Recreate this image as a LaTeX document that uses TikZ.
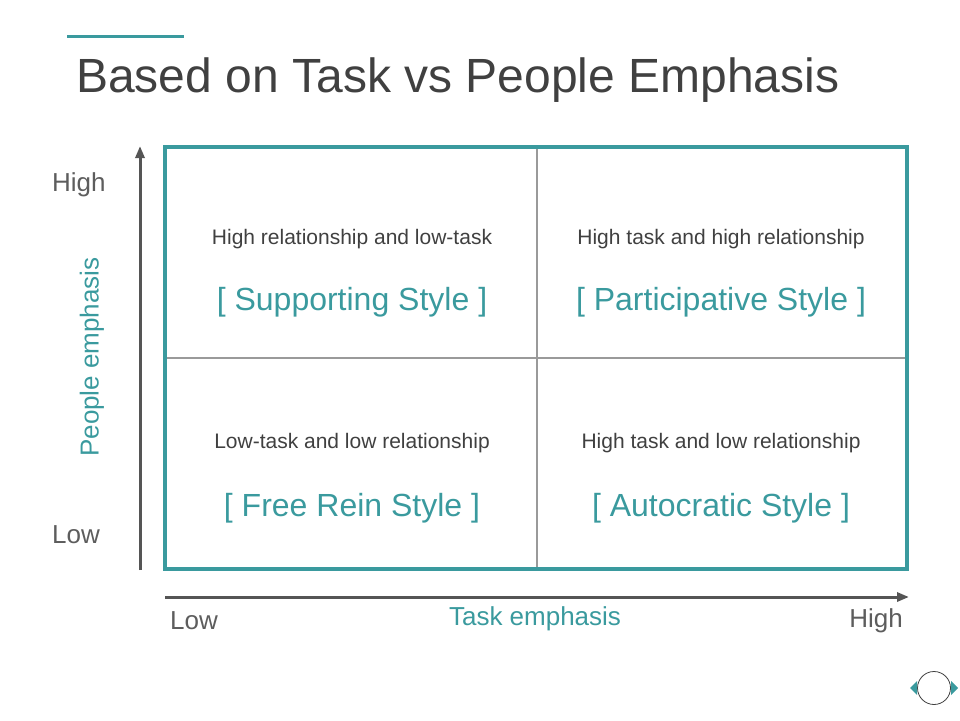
\documentclass[tikz,border=0pt]{standalone}
\usepackage{fontspec}
\setmainfont{Liberation Sans}
\usetikzlibrary{arrows.meta}
\definecolor{teal1}{HTML}{3A9A9E}
\definecolor{dark}{HTML}{404040}
\definecolor{axisgray}{HTML}{555555}
\definecolor{divgray}{HTML}{9A9A9A}
\begin{document}
\begin{tikzpicture}[x=1pt,y=-1pt,
  axislbl/.style={text=dark!85,font=\fontsize{26}{30}\selectfont,inner sep=0pt},
  axistitle/.style={text=teal1,font=\fontsize{26}{30}\selectfont,inner sep=0pt},
  qdesc/.style={text=dark,font=\fontsize{21}{24}\selectfont,inner sep=0pt},
  qstyle/.style={text=teal1,font=\fontsize{32}{36}\selectfont,inner sep=0pt},
  axisline/.style={draw=axisgray,line width=3pt,-{Triangle[length=12pt,width=9pt]}},
  divider/.style={draw=divgray,line width=2.5pt}]
\useasboundingbox (0,0) rectangle (960,720);
% title
\coordinate (tl1) at (67,36); \coordinate (tl2) at (184,36);
\draw[teal1,line width=3pt] (tl1) -- (tl2);
\node[anchor=base west,inner sep=0pt,text=dark,font=\fontsize{48}{54}\selectfont] (title) at (76,92) {Based on Task vs People Emphasis};
% grid
\coordinate (gTL) at (165,147); \coordinate (gBR) at (907,569);
\coordinate (vT) at (537,147); \coordinate (vB) at (537,569);
\coordinate (hL) at (165,358); \coordinate (hR) at (907,358);
\draw[divider] (vT) -- (vB);
\draw[divider] (hL) -- (hR);
\draw[teal1,line width=3.5pt] (gTL) rectangle (gBR);
% axes
\coordinate (yA) at (140,570); \coordinate (yB) at (140,146);
\coordinate (xA) at (165,597); \coordinate (xB) at (909,597);
\draw[axisline] (yA) -- (yB);
\draw[axisline] (xA) -- (xB);
% axis labels
\node[axislbl,anchor=west] (yhigh) at (52,185) {High};
\node[axislbl,anchor=west] (ylow) at (52,535) {Low};
\node[axistitle,rotate=90] (ytitle) at (92,357) {People emphasis};
\node[axislbl,anchor=west] (xlow) at (170,621) {Low};
\node[axistitle] (xtitle) at (535,619) {Task emphasis};
\node[axislbl,anchor=east] (xhigh) at (903,621) {High};
% quadrants
\node[qdesc] (q1d) at (352,239) {High relationship and low-task};
\node[qstyle] (q1s) at (352,302) {[ Supporting Style ]};
\node[qdesc] (q2d) at (721,239) {High task and high relationship};
\node[qstyle] (q2s) at (721,302) {[ Participative Style ]};
\node[qdesc] (q3d) at (352,443) {Low-task and low relationship};
\node[qstyle] (q3s) at (352,508) {[ Free Rein Style ]};
\node[qdesc] (q4d) at (721,443) {High task and low relationship};
\node[qstyle] (q4s) at (721,508) {[ Autocratic Style ]};
% nav icon
\node[circle,draw=dark,line width=0.8pt,minimum size=33pt,inner sep=0pt] (nav) at (934,688) {};
\fill[teal1] (910,688) -- (917,681) -- (917,695) -- cycle;
\fill[teal1] (958,688) -- (951,681) -- (951,695) -- cycle;
\end{tikzpicture}
\end{document}
